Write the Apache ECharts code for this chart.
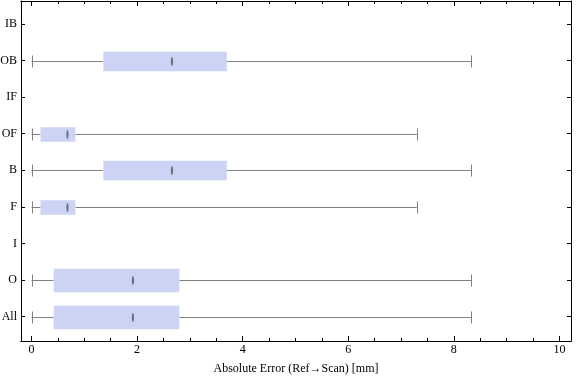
<!DOCTYPE html>
<html><head><meta charset="utf-8">
<script src="https://cdn.jsdelivr.net/npm/echarts@6/dist/echarts.min.js"></script>
<style>html,body{margin:0;padding:0;background:#fff}#c{width:576px;height:381px}</style>
</head><body><div id="c"></div>
<script>
// ---- data ----
const categories = ['All', 'O', 'I', 'F', 'B', 'OF', 'IF', 'OB', 'IB'];
const minVals    = [0,    0,    null, 0,    0,    0,    null, 0,    null];
const q1Vals     = [0.42, 0.42, null, 0.17, 1.36, 0.17, null, 1.36, null];
const medianVals = [1.92, 1.92, null, 0.68, 2.66, 0.68, null, 2.66, null];
const q3Vals     = [2.80, 2.80, null, 0.83, 3.70, 0.83, null, 3.70, null];
const maxVals    = [8.33, 8.33, null, 7.30, 8.33, 7.30, null, 8.33, null];
const xTickLabels = [0, 2, 4, 6, 8, 10];
const xMinorTicks = [0.5, 1, 1.5, 2.5, 3, 3.5, 4.5, 5, 5.5, 6.5, 7, 7.5, 8.5, 9, 9.5];
const axisTitle = 'Absolute Error (Ref\u2192Scan) [mm]';

// ---- style (box thickness in category units) ----
const boxThickness = {All: 0.64, O: 0.64, F: 0.40, B: 0.53, OF: 0.40, OB: 0.53};

const yPositions = categories.map((c, i) => i + 1);
const seriesData = [];
categories.forEach((c, i) => {
  if (minVals[i] === null) return;
  seriesData.push([yPositions[i], minVals[i], q1Vals[i], medianVals[i], q3Vals[i], maxVals[i], boxThickness[c]]);
});

const FONT = 'Liberation Serif';
const GRAY = '#808080';

function xAxisBase(extra) {
  return Object.assign({
    type: 'value', min: -0.2, max: 10.22,
    splitLine: {show: false},
    axisLine: {show: true, onZero: false, lineStyle: {color: '#000', width: 1}},
  }, extra);
}
function yAxisBase(extra) {
  return Object.assign({
    type: 'value', min: 0.33, max: 9.63,
    splitLine: {show: false},
    axisLine: {show: true, onZero: false, lineStyle: {color: '#000', width: 1}},
  }, extra);
}

const chart = echarts.init(document.getElementById('c'), null, {renderer: 'canvas'});
chart.setOption({
  animation: false,
  grid: {left: 21, right: 5, top: 1, bottom: 40, containLabel: false, outerBoundsMode: 'none'},
  xAxis: [
    xAxisBase({
      position: 'bottom',
      name: axisTitle, nameLocation: 'middle', nameGap: 22,
      nameTextStyle: {fontFamily: FONT, fontSize: 12, color: '#000'},
      axisTick: {show: true, inside: true, length: 5, customValues: xTickLabels, lineStyle: {color: '#000'}},
      axisLabel: {show: true, customValues: xTickLabels, margin: 3, fontFamily: FONT, fontSize: 12, color: '#000'}
    }),
    xAxisBase({
      position: 'bottom',
      axisTick: {show: true, inside: true, length: 3, customValues: xMinorTicks, lineStyle: {color: '#000'}},
      axisLabel: {show: false}
    }),
    xAxisBase({
      position: 'top',
      axisTick: {show: true, inside: true, length: 5, customValues: xTickLabels, lineStyle: {color: '#000'}},
      axisLabel: {show: false}
    }),
    xAxisBase({
      position: 'top',
      axisTick: {show: true, inside: true, length: 3, customValues: xMinorTicks, lineStyle: {color: '#000'}},
      axisLabel: {show: false}
    })
  ],
  yAxis: [
    yAxisBase({
      position: 'left',
      axisTick: {show: true, inside: true, length: 4, customValues: yPositions, lineStyle: {color: '#000'}},
      axisLabel: {show: true, customValues: yPositions, margin: 4, fontFamily: FONT, fontSize: 12, color: '#000',
        formatter: v => categories[Math.round(v) - 1] || ''}
    }),
    yAxisBase({
      position: 'right',
      axisTick: {show: true, inside: true, length: 4, customValues: yPositions, lineStyle: {color: '#000'}},
      axisLabel: {show: false}
    })
  ],
  series: [{
    type: 'custom',
    xAxisIndex: 0, yAxisIndex: 0,
    data: seriesData,
    encode: {y: 0, x: [1, 2, 3, 4, 5]},
    renderItem: function (params, api) {
      const yv = api.value(0);
      const yc = Math.round(api.coord([0, yv])[1]) + 0.5;
      const pMin = api.coord([api.value(1), yv])[0];
      const pQ1 = api.coord([api.value(2), yv])[0];
      const pMed = api.coord([api.value(3), yv])[0];
      const pQ3 = api.coord([api.value(4), yv])[0];
      const pMax = api.coord([api.value(5), yv])[0];
      const h = api.size([0, api.value(6)])[1];
      const lineStyle = {stroke: GRAY, lineWidth: 1};
      const capH = 6;
      return {
        type: 'group',
        children: [
          {type: 'line', shape: {x1: pMin, y1: yc, x2: pQ1, y2: yc}, style: lineStyle},
          {type: 'line', shape: {x1: pQ3, y1: yc, x2: pMax, y2: yc}, style: lineStyle},
          {type: 'line', shape: {x1: Math.round(pMin) + 0.5, y1: yc - capH, x2: Math.round(pMin) + 0.5, y2: yc + capH}, style: lineStyle},
          {type: 'line', shape: {x1: Math.round(pMax) + 0.5, y1: yc - capH, x2: Math.round(pMax) + 0.5, y2: yc + capH}, style: lineStyle},
          {type: 'rect', shape: {x: pQ1, y: yc - h / 2, width: pQ3 - pQ1, height: h}, style: {fill: '#ccd3f4'}},
          {type: 'ellipse', shape: {cx: pMed, cy: yc, rx: 1.1, ry: 4.5}, style: {fill: '#6e6e7a'}}
        ]
      };
    }
  }]
});
</script>
</body></html>
